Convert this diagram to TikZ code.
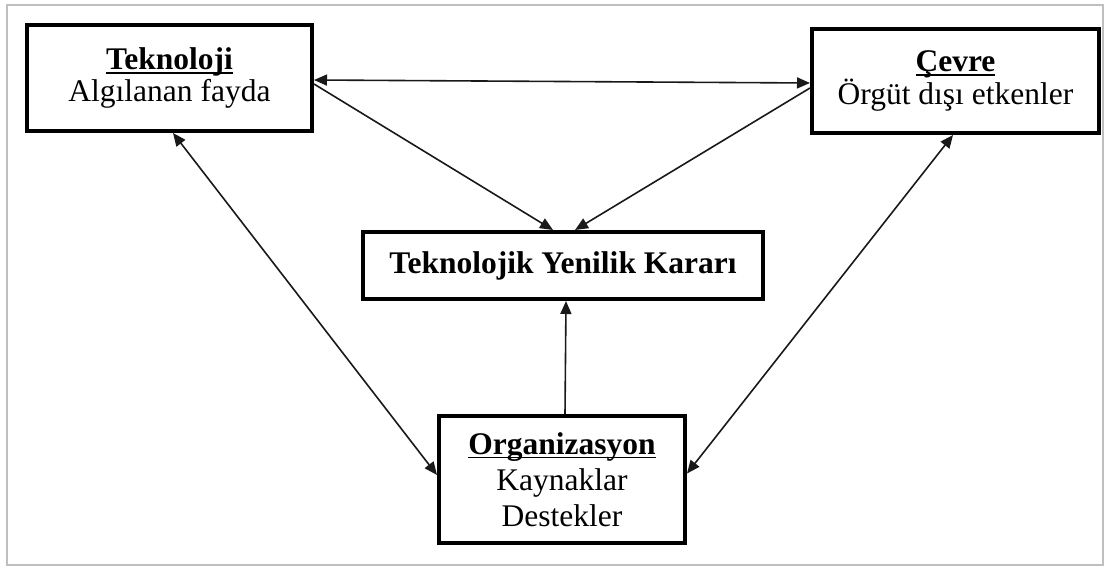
\documentclass[tikz,border=0pt]{standalone}
\usepackage{fontspec}
\setmainfont{Liberation Serif}
\usetikzlibrary{arrows.meta}
\newcommand\myul[1]{\setbox0\hbox{#1}\rlap{\rule[-4pt]{\wd0}{1.6pt}}\box0}
\begin{document}
\begin{tikzpicture}[x=1pt,y=-1pt,
  box/.style={draw=black,line width=4pt,rectangle,inner sep=0pt,align=center,
    font=\fontsize{31.5}{32}\selectfont},
  link/.style={line width=1.6pt,draw=black!90},
  tip/.style={-{Triangle[length=13pt,width=11pt]}},
  tips/.style={{Triangle[length=13pt,width=11pt]}-{Triangle[length=13pt,width=11pt]}}]
\useasboundingbox (0,0) rectangle (1110,567);
\draw[line width=2pt,draw=black!25] (7,5) rectangle (1103,565);
\node[box,minimum width=285pt,minimum height=106pt] (tek) at (169.5,78)
  {\textbf{\myul{Teknoloji}}\\Algılanan fayda};
\node[box,minimum width=287pt,minimum height=104pt] (cev) at (955.5,81)
  {\textbf{\myul{Çevre}}\\Örgüt dışı etkenler};
\node[box,minimum width=400pt,minimum height=67pt] (mid) at (563,265.5)
  {\textbf{Teknolojik Yenilik Kararı}};
\node[box,minimum width=246pt,minimum height=127pt,font=\fontsize{31.5}{36}\selectfont] (org) at (562,479.5)
  {\textbf{\myul{Organizasyon}}\\Kaynaklar\\Destekler};
\draw[link,tips] ([yshift=-2pt]tek.east) -- ([yshift=-2pt]cev.west);
\draw[link,tip] ([yshift=-6pt]tek.east) -- ([xshift=-10pt]mid.north);
\draw[link,tip] ([yshift=-7pt]cev.west) -- ([xshift=12pt]mid.north);
\draw[link,tips] ([xshift=3.5pt]tek.south) -- ([yshift=4.5pt]org.west);
\draw[link,tips] ([xshift=-2.5pt]cev.south) -- ([yshift=6pt]org.east);
\draw[link,tip] ([xshift=3pt]org.north) -- ([xshift=3pt]mid.south);
\end{tikzpicture}
\end{document}
